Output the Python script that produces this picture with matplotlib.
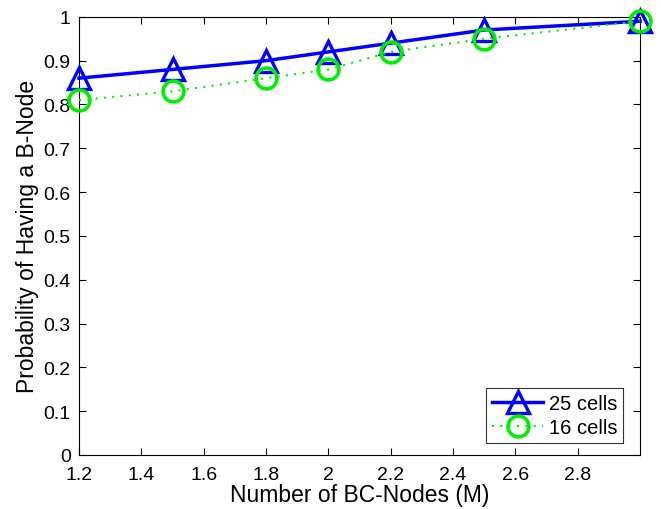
import matplotlib
matplotlib.use('Agg')
import matplotlib.pyplot as plt
import numpy as np

plt.rcParams['font.family'] = ['Liberation Sans', 'DejaVu Sans']

# Data
bc_nodes = [1.2, 1.5, 1.8, 2.0, 2.2, 2.5, 3.0]
cells_25 = [0.86, 0.88, 0.90, 0.92, 0.94, 0.97, 0.99]
cells_16 = [0.81, 0.83, 0.86, 0.88, 0.92, 0.95, 0.99]
x_ticks = [1.2, 1.4, 1.6, 1.8, 2.0, 2.2, 2.4, 2.6, 2.8]
x_tick_labels = ['1.2', '1.4', '1.6', '1.8', '2', '2.2', '2.4', '2.6', '2.8']
y_ticks = [0, 0.1, 0.2, 0.3, 0.4, 0.5, 0.6, 0.7, 0.8, 0.9, 1.0]
y_tick_labels = ['0', '0.1', '0.2', '0.3', '0.4', '0.5', '0.6', '0.7', '0.8', '0.9', '1']

fig = plt.figure(figsize=(6.61, 5.10), dpi=100)
ax = fig.add_axes([0.1195, 0.106, 0.849, 0.859])

ax.plot(bc_nodes, cells_25, color='#0000ff', linewidth=2.5, marker='^',
        markersize=16, markerfacecolor='none', markeredgewidth=2.4, label='25 cells',
        clip_on=False, zorder=3)
ax.plot(bc_nodes, cells_16, color='#00ee00', linewidth=1.5, linestyle=(0, (1, 3)),
        marker='o', markersize=15, markerfacecolor='none', markeredgewidth=2.6,
        label='16 cells', clip_on=False, zorder=4)

ax.set_xlim(1.2, 3.0)
ax.set_ylim(0, 1)
ax.set_xticks(x_ticks)
ax.set_xticklabels(x_tick_labels)
ax.set_yticks(y_ticks)
ax.set_yticklabels(y_tick_labels)
ax.tick_params(direction='in', top=True, right=True, labelsize=14, length=5, width=0.8)
ax.tick_params(axis='x', pad=8)
ax.tick_params(axis='y', pad=6)
for s in ax.spines.values():
    s.set_linewidth(0.8)

ax.set_xlabel('Number of BC-Nodes (M)', fontsize=16.5, labelpad=0)
ax.set_ylabel('Probability of Having a B-Node', fontsize=16.5, labelpad=3)

leg = ax.legend(loc='lower right', fontsize=14.5, fancybox=False, edgecolor='black',
                handlelength=2.5, borderpad=0.3, labelspacing=0.25, handletextpad=0.3,
                borderaxespad=0.0, bbox_to_anchor=(0.97, 0.027))
leg.get_frame().set_linewidth(0.8)

fig.savefig('out.png', dpi=100)
